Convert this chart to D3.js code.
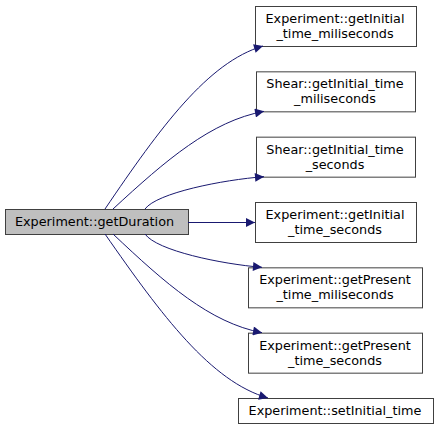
<!DOCTYPE html>
<html>
<head>
<meta charset="utf-8">
<script src="https://cdn.jsdelivr.net/npm/d3@7"></script>
<style>
  body { margin: 0; background: #fff; }
  text { font-family: "DejaVu Sans", sans-serif; font-size: 12.8px; fill: #000; }
</style>
</head>
<body>
<svg id="graph" width="440" height="430"></svg>
<script>
// ---------- data ----------
const rootLabel = "Experiment::getDuration";
const calleeIds = ["a", "b", "c", "d", "e", "f", "g"];
const calleeLines = [
  ["Experiment::getInitial", "_time_miliseconds"],
  ["Shear::getInitial_time", "_miliseconds"],
  ["Shear::getInitial_time", "_seconds"],
  ["Experiment::getInitial", "_time_seconds"],
  ["Experiment::getPresent", "_time_miliseconds"],
  ["Experiment::getPresent", "_time_seconds"],
  ["Experiment::setInitial_time"]
];

const svg = d3.select("#graph");
const edgeColor = "#191970";

svg.append("defs").append("marker")
  .attr("id", "arrow")
  .attr("viewBox", "0 0 10 10")
  .attr("refX", 10).attr("refY", 5)
  .attr("markerWidth", 12).attr("markerHeight", 9)
  .attr("markerUnits", "userSpaceOnUse")
  .attr("orient", "auto")
  .append("path").attr("d", "M0,0L10,5L0,10Z").attr("fill", edgeColor);

// vertical placement of callee boxes
const y = d3.scalePoint().domain(calleeIds).range([6, 398]);
const cx = 335;
const lineH = 15;

// root node
const root = { x: 5, y: 209, w: 183, h: 25 };
svg.append("rect")
  .attr("x", root.x + 0.5).attr("y", root.y + 0.5)
  .attr("width", root.w).attr("height", root.h)
  .attr("fill", "#bfbfbf").attr("stroke", "#404040");
svg.append("text")
  .attr("x", root.x + root.w / 2 - 2).attr("y", root.y + root.h / 2 + 4.5)
  .attr("text-anchor", "middle").text(rootLabel);

// callee nodes
const nodes = calleeIds.map((id, i) => {
  const lines = calleeLines[i];
  const g = svg.append("g");
  const widths = lines.map(l => {
    const t = g.append("text").text(l);
    const w = t.node().getComputedTextLength();
    t.remove();
    return w;
  });
  const w = Math.round(d3.max(widths) + 22);
  const h = lines.length > 1 ? 40 : 25;
  const top = y(id);
  const left = Math.round(cx - w / 2);
  g.append("rect")
    .attr("x", left + 0.5).attr("y", top + 0.5)
    .attr("width", w).attr("height", h)
    .attr("fill", "#fff").attr("stroke", "#404040");
  lines.forEach((l, k) => {
    g.append("text")
      .attr("x", cx)
      .attr("y", top + h / 2 + 4.5 + (k - (lines.length - 1) / 2) * lineH)
      .attr("text-anchor", "middle").text(l);
  });
  return { top, left, w, h };
});

// edges
const starts = [105, 113, 145, null, 145, 113, 105];
nodes.forEach((n, i) => {
  let path;
  if (i === 3) {
    const yy = root.y + root.h / 2 + 1;
    path = `M${root.x + root.w},${yy}L${n.left},${yy}`;
  } else {
    const up = i < 3;
    const sx = starts[i];
    const sy = up ? root.y : root.y + root.h;
    const ex = n.left + (i === 6 ? 30 : (i === 4 || i === 5 ? 14 : 8));
    const ey = up ? n.top + n.h : n.top;
    const bend = (i === 2 || i === 4) ? 0.1 : 0.35;
    const c1x = sx + (ex - sx) * bend, c1y = sy + (ey - sy) * 0.5;
    const c2x = sx + (ex - sx) * 0.65, c2y = sy + (ey - sy) * 0.9;
    path = `M${sx},${sy}C${c1x},${c1y} ${c2x},${c2y} ${ex},${ey}`;
  }
  svg.append("path")
    .attr("d", path)
    .attr("fill", "none").attr("stroke", edgeColor)
    .attr("stroke-width", 1)
    .attr("marker-end", "url(#arrow)");
});
</script>
</body>
</html>
